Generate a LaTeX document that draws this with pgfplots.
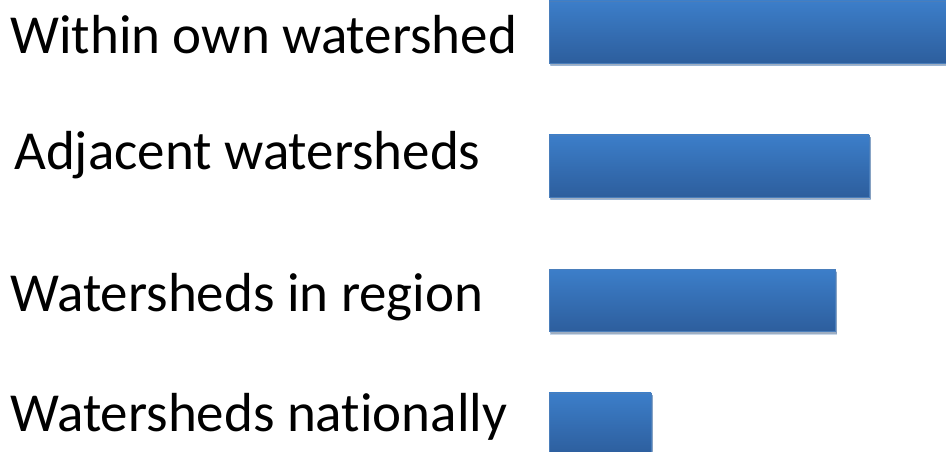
\documentclass[border=0pt]{standalone}
\usepackage{pgfplots}
\pgfplotsset{compat=1.18}
\usepackage{fontspec}
\setmainfont{Carlito}[Ligatures=NoCommon]
\usetikzlibrary{shadows}
\definecolor{bartop}{RGB}{60,126,201}
\definecolor{barbot}{RGB}{45,94,157}
\definecolor{barline}{RGB}{74,126,187}
\pgfplotsset{
  mybar/.style={draw=barline, line width=0.8pt, top color=bartop, bottom color=barbot,
  drop shadow={shadow xshift=1.5bp, shadow yshift=-2.5bp, opacity=0.3, fill=black!60}}
}
\begin{document}
\begin{tikzpicture}
\begin{axis}[
  name=main,
  width=946bp, height=452bp, scale only axis,
  xmin=-549, xmax=397, ymin=-452, ymax=0,
  axis lines=none, ticks=none,
  clip=true,
  xbar, bar width=62, bar shift=0pt,
]
\addplot[mybar] coordinates {(420,-32)};
\addplot[mybar] coordinates {(320,-166)};
\addplot[mybar] coordinates {(286,-300.5)};
\addplot[mybar] coordinates {(102,-424)};
\end{axis}
\begin{axis}[
  width=946bp, height=452bp, scale only axis,
  xmin=-549, xmax=397, ymin=-452, ymax=0,
  axis lines=none, ticks=none, clip=false,
]
\node[anchor=base west, inner sep=0pt, font=\fontsize{55bp}{60bp}\selectfont] at (axis cs:-539,-54) {Within own watershed};
\node[anchor=base west, inner sep=0pt, font=\fontsize{55bp}{60bp}\selectfont] at (axis cs:-535,-170) {Adjacent watersheds};
\node[anchor=base west, inner sep=0pt, font=\fontsize{55bp}{60bp}\selectfont] at (axis cs:-539,-312) {Watersheds in region};
\node[anchor=base west, inner sep=0pt, font=\fontsize{55bp}{60bp}\selectfont] at (axis cs:-539,-432) {Watersheds nationally};
\end{axis}
\pgfresetboundingbox
\useasboundingbox (main.south west) rectangle (main.north east);
\end{tikzpicture}
\end{document}
